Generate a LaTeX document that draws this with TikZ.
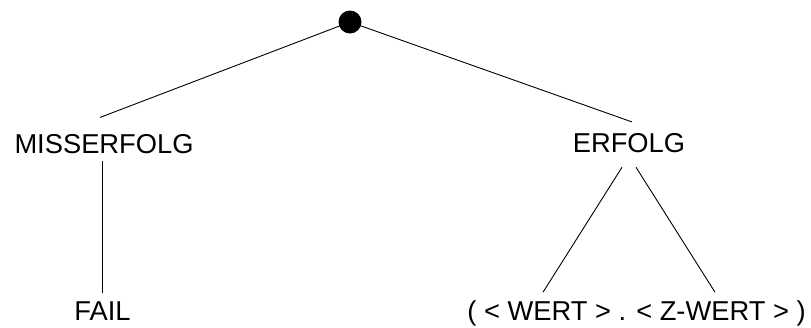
\documentclass[tikz,border=0pt]{standalone}
\usepackage{fontspec}
\setmainfont{Liberation Sans}
\begin{document}
\begin{tikzpicture}[x=1pt,y=-1pt,
  lbl/.style={inner sep=0pt,outer sep=0pt,anchor=base,font=\fontsize{27.3}{30}\selectfont},
  edge/.style={line width=0.9pt,black},
  rootdot/.style={circle,fill=black,inner sep=0pt,minimum size=23pt}]
\useasboundingbox (0,0) rectangle (811,327);
\node[rootdot] (root) at (350,22) {};
\node[lbl] (mis) at (104,153) {MISSERFOLG};
\node[lbl] (erf) at (629,152) {ERFOLG};
\node[lbl] (fail) at (102.5,320.5) {FAIL};
\node[lbl] (pair) at (636.5,320.5) {( < WERT > . < Z-WERT > )};
\draw[edge] (root.center) -- ([xshift=-4pt,yshift=16.5pt]mis.north);
\draw[edge] (root.center) -- ([xshift=3pt,yshift=11pt]erf.north);
\draw[edge] ([xshift=-2pt,yshift=-8pt]mis.south) -- ([xshift=-0.5pt,yshift=9pt]fail.north);
\draw[edge] ([xshift=-7pt,yshift=-15pt]erf.south) -- ([xshift=-93.5pt,yshift=8.5pt]pair.north);
\draw[edge] ([xshift=7pt,yshift=-15pt]erf.south) -- ([xshift=78.5pt,yshift=8.5pt]pair.north);
\end{tikzpicture}
\end{document}
